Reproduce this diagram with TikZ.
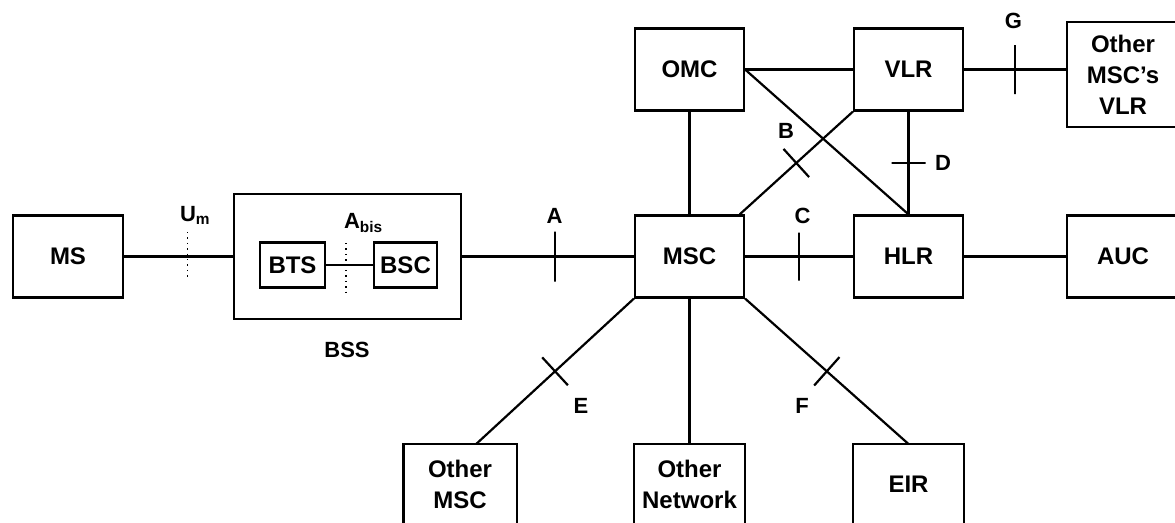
\documentclass[tikz,border=0pt]{standalone}
\usepackage{fontspec}
\setmainfont{Liberation Sans}

\begin{document}
\begin{tikzpicture}[
    x=1pt, y=-1pt,
    line width=2.2pt,
    box/.style={draw, inner sep=0pt, minimum width=109pt, minimum height=82pt,
      align=center, font=\bfseries\fontsize{24}{31}\selectfont},
    tag/.style={inner sep=0pt, anchor=base, font=\bfseries\fontsize{22}{26}\selectfont},
    tk/.style={draw, sloped, inner sep=0pt, minimum width=0pt, minimum height=#1},
    tk/.default=38pt,
    dotline/.style={line width=1.4pt, dash pattern=on 1.4pt off 4pt}
  ]
  \useasboundingbox (0,0) rectangle (1175,522);
  \clip (0,0) rectangle (1175,522);

  % radio side
  \node[box, minimum width=110pt] (ms) at (68,256.5) {MS};
  \node[draw, inner sep=0pt, minimum width=227pt, minimum height=125pt] (bss) at (347.5,256.5) {};
  \node[box, minimum width=65pt, minimum height=45pt] (bts) at (292.5,265) {BTS};
  \node[box, minimum width=63pt, minimum height=45pt] (bsc) at (405.5,265) {BSC};

  % switching side
  \node[box] (msc) at (689.5,256.5) {MSC};
  \node[box] (omc) at (689.5,69.5) {OMC};
  \node[box] (vlr) at (908.5,69.5) {VLR};
  \node[box] (hlr) at (908.5,256.5) {HLR};
  \node[box, minimum width=112pt] (auc) at (1123,256.5) {AUC};
  \node[box, minimum width=112pt, minimum height=105pt] (ovlr) at (1123,74.5) {Other\\MSC's\\VLR};

  % bottom row, cut by the page edge
  \node[box, draw=none, anchor=north, minimum width=111pt, minimum height=78pt] (omsc) at (460,444) {Other\\MSC};
  \node[box, draw=none, anchor=north, minimum height=78pt] (onet) at (689.5,444) {Other\\Network};
  \node[box, draw=none, anchor=north, minimum height=78pt] (eir) at (908.5,444) {EIR};
  \foreach \n in {omsc,onet,eir}
    \draw (\n.south west) -- (\n.north west) -- (\n.north east) -- (\n.south east);

  % links
  \draw (ms.east) -- (ms.east -| bss.west);
  \draw (bts) -- (bsc);
  \draw (bss) -- node[tk=50pt, pos=.54] {} (msc);
  \draw (msc) -- node[tk=48pt] {} (hlr);
  \draw (hlr) -- (auc);
  \draw (omc) -- (msc);
  \draw (omc) -- (vlr);
  \draw (vlr.east) -- node[tk=49pt] {} (vlr.east -| ovlr.west);
  \draw (vlr) -- node[tk=34pt] {} (hlr);
  \draw (omc.east) -- (hlr.north);
  \draw (msc.40) -- node[tk] {} (vlr.south west);
  \draw (msc.south west) -- node[tk] {} (omsc.68);
  \draw (msc) -- (onet);
  \draw (msc.south east) -- node[tk] {} (eir.north);

  % air and abis cuts
  \coordinate (um1) at (187.5,232);
  \coordinate (um2) at (187.5,278);
  \coordinate (ab1) at (346,243);
  \coordinate (ab2) at (346,292);
  \draw[dotline] (um1) -- (um2);
  \draw[dotline] (ab1) -- (ab2);

  % interface names
  \node[tag, anchor=base west] (lum) at (179,221) {U\textsubscript{m}};
  \node[tag, anchor=base west] (labis) at (343,228) {A\textsubscript{bis}};
  \node[tag] (lbss) at (347,357) {BSS};
  \node[tag] (la) at (554.5,223) {A};
  \node[tag] (lb) at (786,138) {B};
  \node[tag] (lc) at (802.5,223) {C};
  \node[tag] (ld) at (943,170) {D};
  \node[tag] (le) at (581,413) {E};
  \node[tag] (lf) at (802,413) {F};
  \node[tag] (lg) at (1013.5,28) {G};
\end{tikzpicture}
\end{document}
